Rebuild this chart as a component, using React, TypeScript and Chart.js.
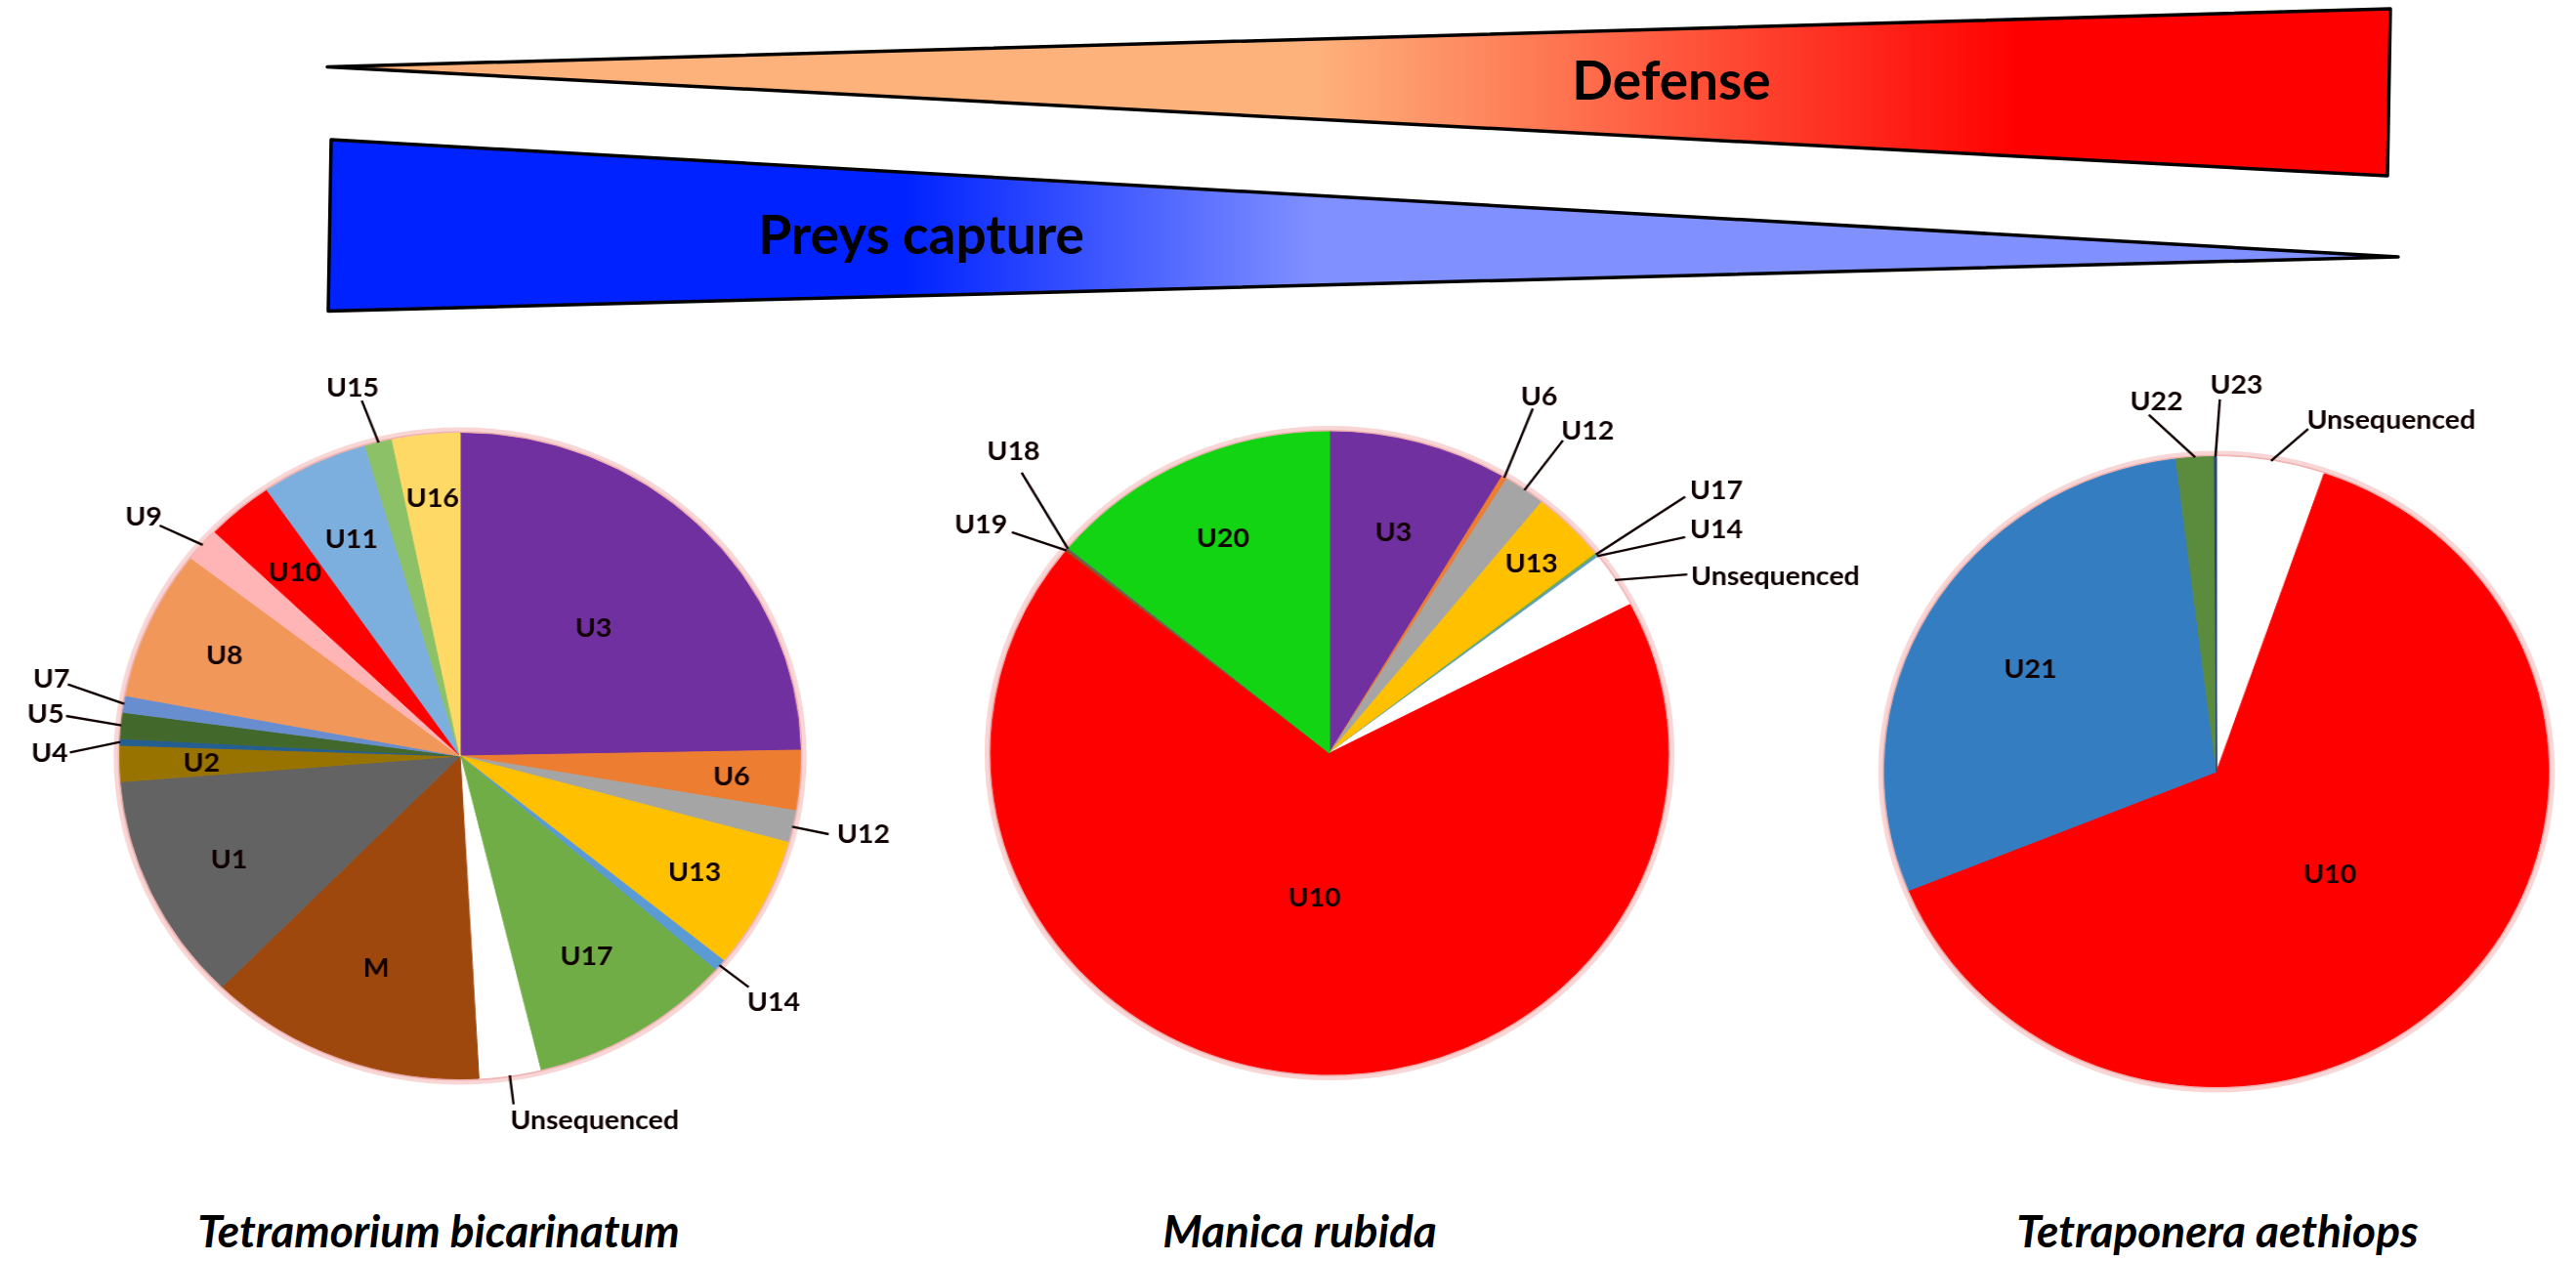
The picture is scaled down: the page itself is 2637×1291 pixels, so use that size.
import React, { useEffect, useRef } from "react";
import { Chart, registerables } from "chart.js";

Chart.register(...registerables);

// ---------- Data ----------
// Tetramorium bicarinatum (clockwise from 12 o'clock)
const tbCategories = ["U3", "U6", "U12", "U13", "U14", "U17", "Unsequenced", "M", "U1", "U2", "U4", "U5", "U7", "U8", "U9", "U10", "U11", "U15", "U16"];
const tbValues = [24.7, 3.0, 1.6, 6.6, 0.6, 9.7, 2.9, 13.2, 11.4, 1.8, 0.33, 1.3, 0.83, 7.5, 1.7, 3.2, 5.1, 1.3, 3.2];
const tbColors = ["#7030A0", "#ED7D31", "#A5A5A5", "#FFC000", "#5B9BD5", "#70AD47", "#FFFFFF", "#9E480E", "#636363", "#997300", "#255E91", "#43682B", "#698ED0", "#F1975A", "#FFB5B5", "#FF0000", "#7CAFDD", "#8CC168", "#FFD966"];

// Manica rubida
const mrCategories = ["U3", "U6", "U12", "U13", "U17", "U14", "Unsequenced", "U10", "U19", "U18", "U20"];
const mrValues = [8.5, 0.26, 2.0, 3.6, 0.1, 0.1, 2.8, 68.5, 0.1, 0.1, 14.0];
const mrColors = ["#7030A0", "#ED7D31", "#A5A5A5", "#FFC000", "#70AD47", "#5B9BD5", "#FFFFFF", "#FF0000", "#9E480E", "#636363", "#12D412"];

// Tetraponera aethiops
const taCategories = ["Unsequenced", "U10", "U21", "U22", "U23"];
const taValues = [5.25, 63.6, 29.2, 1.85, 0.1];
const taColors = ["#FFFFFF", "#FF0000", "#347DC1", "#5B8B3D", "#264478"];

const speciesNames = ["Tetramorium bicarinatum", "Manica rubida", "Tetraponera aethiops"];
const gradientLabels = ["Defense", "Preys capture"];

// ---------- Label layout (radius units, relative to pie centre) ----------
type Outside = { text: [number, number]; end: [number, number] };
type LabelLayout = { inside: Record<string, number>; outside: Record<string, Outside> };

const tbLayout: LabelLayout = {
  inside: { U3: 0.56, U6: 0.8, U13: 0.776, U17: 0.72, M: 0.7, U1: 0.75, U2: 0.76, U8: 0.76, U10: 0.75, U11: 0.745, U16: 0.805 },
  outside: {
    U15: { text: [-0.316, -1.144], end: [-0.289, -1.101] },
    U9: { text: [-0.93, -0.743], end: [-0.883, -0.714] },
    U7: { text: [-1.201, -0.242], end: [-1.153, -0.222] },
    U5: { text: [-1.218, -0.131], end: [-1.158, -0.124] },
    U4: { text: [-1.206, -0.011], end: [-1.147, -0.011] },
    U12: { text: [1.185, 0.241], end: [1.083, 0.242] },
    U14: { text: [0.921, 0.759], end: [0.848, 0.716] },
    Unsequenced: { text: [0.395, 1.127], end: [0.157, 1.079] },
  },
};

const mrLayout: LabelLayout = {
  inside: { U20: 0.74, U3: 0.715, U13: 0.84, U10: 0.45 },
  outside: {
    U6: { text: [0.619, -1.111], end: [0.6, -1.072] },
    U12: { text: [0.762, -1.005], end: [0.689, -0.973] },
    U17: { text: [1.142, -0.821], end: [1.05, -0.798] },
    U14: { text: [1.142, -0.699], end: [1.05, -0.672] },
    Unsequenced: { text: [1.316, -0.552], end: [1.056, -0.556] },
    U18: { text: [-0.933, -0.941], end: [-0.909, -0.873] },
    U19: { text: [-1.029, -0.714], end: [-0.938, -0.687] },
  },
};

const taLayout: LabelLayout = {
  inside: { U21: 0.65, U10: 0.47 },
  outside: {
    U22: { text: [-0.181, -1.177], end: [-0.204, -1.133] },
    U23: { text: [0.06, -1.231], end: [0.01, -1.182] },
    Unsequenced: { text: [0.526, -1.12], end: [0.276, -1.088] },
  },
};

const LABEL_FONT_SIZE = 27;
const TEXT_COLOR = "#100000";

function makeLabelPlugin(layout: LabelLayout) {
  return {
    id: "sliceLabels",
    beforeDatasetsDraw(chart: any) {
      const meta = chart.getDatasetMeta(0);
      const arc = meta.data[0];
      if (!arc) return;
      const { x, y, outerRadius } = arc.getProps(["x", "y", "outerRadius"], true);
      const ctx = chart.ctx;
      ctx.save();
      ctx.beginPath();
      ctx.arc(x, y, outerRadius + 2.5, 0, Math.PI * 2);
      ctx.lineWidth = 7;
      ctx.strokeStyle = "rgba(240,165,165,0.45)";
      ctx.stroke();
      ctx.beginPath();
      ctx.arc(x, y, outerRadius + 1, 0, Math.PI * 2);
      ctx.lineWidth = 2;
      ctx.strokeStyle = "rgba(235,150,150,0.55)";
      ctx.stroke();
      ctx.restore();
    },
    afterDatasetsDraw(chart: any) {
      const meta = chart.getDatasetMeta(0);
      const ctx = chart.ctx;
      ctx.save();
      ctx.font = `bold ${LABEL_FONT_SIZE}px Lato, "Open Sans", sans-serif`;
      ctx.fillStyle = TEXT_COLOR;
      ctx.strokeStyle = TEXT_COLOR;
      ctx.lineWidth = 2.4;
      ctx.textAlign = "center";
      ctx.textBaseline = "alphabetic";
      const capOffset = LABEL_FONT_SIZE * 0.36;
      meta.data.forEach((arc: any, i: number) => {
        const name = chart.data.labels[i] as string;
        const { x, y, startAngle, endAngle, outerRadius } = arc.getProps(["x", "y", "startAngle", "endAngle", "outerRadius"], true);
        const mid = (startAngle + endAngle) / 2;
        const R = outerRadius;
        if (layout.inside[name] !== undefined) {
          const r = layout.inside[name] * R;
          ctx.fillText(name, x + Math.cos(mid) * r, y + Math.sin(mid) * r + capOffset);
        } else if (layout.outside[name]) {
          const o = layout.outside[name];
          ctx.beginPath();
          ctx.moveTo(x + Math.cos(mid) * R, y + Math.sin(mid) * R);
          ctx.lineTo(x + o.end[0] * R, y + o.end[1] * R);
          ctx.stroke();
          ctx.fillText(name, x + o.text[0] * R, y + o.text[1] * R + capOffset);
        }
      });
      ctx.restore();
    },
  };
}

type PieProps = {
  categories: string[];
  values: number[];
  colors: string[];
  layout: LabelLayout;
  cx: number;
  cy: number;
  R: number;
  halfW: number;
  halfH: number;
  stretch: number;
};

function PieChart({ categories, values, colors, layout, cx, cy, R, halfW, halfH, stretch }: PieProps) {
  const ref = useRef<HTMLCanvasElement | null>(null);
  useEffect(() => {
    if (!ref.current) return;
    const chart = new Chart(ref.current, {
      type: "pie",
      data: {
        labels: categories,
        datasets: [
          {
            data: values,
            backgroundColor: colors,
            borderColor: colors,
            borderWidth: 1,
            hoverBorderWidth: 1,
            hoverOffset: 0,
            offset: 0,
          },
        ],
      },
      options: {
        responsive: false,
        animation: false,
        events: [],
        layout: {
          padding: { left: halfW - R, right: halfW - R, top: halfH - R, bottom: halfH - R },
        },
        plugins: {
          legend: { display: false },
          tooltip: { enabled: false },
          title: { display: false },
        },
      },
      plugins: [makeLabelPlugin(layout)],
    } as any);
    return () => chart.destroy();
  }, []);
  return (
    <div
      style={{
        position: "absolute",
        left: cx - halfW,
        top: cy - halfH,
        width: 2 * halfW,
        height: 2 * halfH,
        transform: `scaleX(${stretch})`,
        transformOrigin: `${halfW}px ${halfH}px`,
      }}
    >
      <canvas ref={ref} width={2 * halfW} height={2 * halfH} style={{ display: "block" }} />
    </div>
  );
}

export default function App() {
  const stretch = 1.054;
  const font = "Lato, 'Open Sans', sans-serif";
  return (
    <div
      style={{
        position: "absolute",
        left: 0,
        top: 0,
        width: 2637,
        height: 1291,
        overflow: "hidden",
        background: "#ffffff",
      }}
    >
      <svg width={2637} height={1291} style={{ position: "absolute", left: 0, top: 0 }}>
        <defs>
          <linearGradient id="gDef" gradientUnits="userSpaceOnUse" x1={335} y1={0} x2={2447} y2={0}>
            <stop offset="0.478" stopColor="#FDB27C" />
            <stop offset="0.82" stopColor="#FF0000" />
          </linearGradient>
          <linearGradient id="gPrey" gradientUnits="userSpaceOnUse" x1={336} y1={0} x2={2455} y2={0}>
            <stop offset="0.278" stopColor="#0022FF" />
            <stop offset="0.476" stopColor="#8090FF" />
          </linearGradient>
        </defs>
        <polygon
          points="335,68.5 2447,9 2444,180"
          fill="url(#gDef)"
          stroke="#000"
          strokeWidth={3.5}
          strokeLinejoin="round"
        />
        <polygon
          points="339,143 336,318.5 2455,263"
          fill="url(#gPrey)"
          stroke="#000"
          strokeWidth={3.5}
          strokeLinejoin="round"
        />
        <text x={1711} y={101.7} fontFamily={font} fontWeight={700} fontSize={55} textAnchor="middle" fill="#000">
          {gradientLabels[0]}
        </text>
        <text x={943} y={260} fontFamily={font} fontWeight={700} fontSize={55} textAnchor="middle" fill="#000">
          {gradientLabels[1]}
        </text>
        {[449, 1330.5, 2270].map((x, i) => (
          <text
            key={i}
            x={x}
            y={1277}
            fontFamily={font}
            fontWeight={700}
            fontStyle="italic"
            fontSize={46}
            textAnchor="middle"
            fill="#000"
          >
            {speciesNames[i]}
          </text>
        ))}
      </svg>
      <PieChart categories={tbCategories} values={tbValues} colors={tbColors} layout={tbLayout} cx={470.7} cy={774.2} R={331} halfW={445} halfH={410} stretch={stretch} />
      <PieChart categories={mrCategories} values={mrValues} colors={mrColors} layout={mrLayout} cx={1361.1} cy={770.6} R={329.5} halfW={530} halfH={400} stretch={stretch} />
      <PieChart categories={taCategories} values={taValues} colors={taColors} layout={taLayout} cx={2269.2} cy={789.9} R={323} halfW={350} halfH={420} stretch={stretch} />
    </div>
  );
}
